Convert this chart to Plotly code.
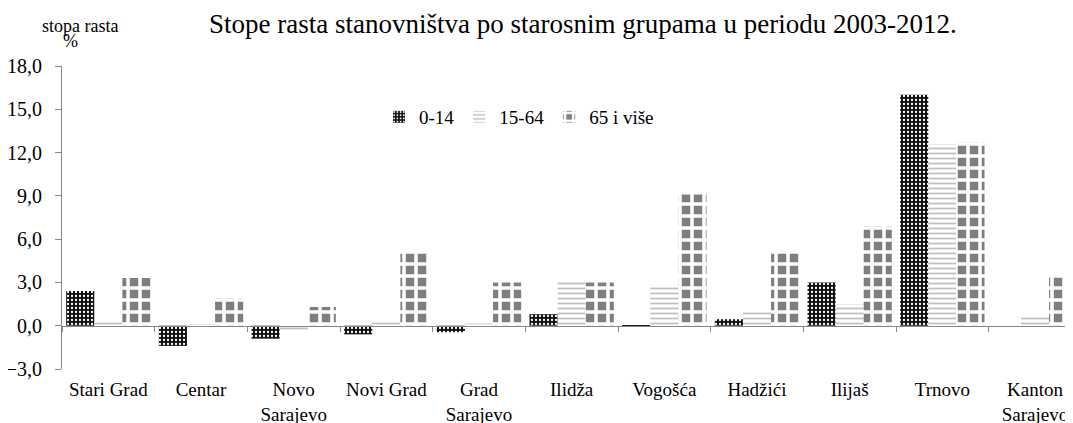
import plotly.graph_objects as go

categories = ["Stari Grad", "Centar", "Novo<br>Sarajevo", "Novi Grad", "Grad<br>Sarajevo",
              "Ilidža", "Vogošća", "Hadžići", "Ilijaš", "Trnovo", "Kanton<br>Sarajevo"]
series_names = ["0-14", "15-64", "65 i više"]
v_0_14 = [2.4, -1.4, -0.9, -0.6, -0.45, 0.8, -0.05, 0.45, 3.0, 16.0, 0.0]
v_15_64 = [0.3, 0.05, -0.3, 0.3, 0.15, 3.1, 2.7, 1.05, 1.5, 12.6, 0.75]
v_65 = [3.3, 1.9, 1.3, 5.1, 3.0, 3.0, 9.1, 5.2, 6.9, 12.7, 3.5]
y_ticks = [-3, 0, 3, 6, 9, 12, 15, 18]

FONT = "Liberation Serif"
AXIS_GREY = "#878787"

# page body has an 8px margin; the figure is sized so that its plot area
# lands at screen x 62..1073, y 66..369
W, H = 1065, 415
PLOT_LEFT, PLOT_TOP, PLOT_W, PLOT_H = 62, 66, 1011, 303


def px_x(sx):
    return (sx - PLOT_LEFT) / PLOT_W


def px_y(sy):
    return (PLOT_TOP + PLOT_H - sy) / PLOT_H


fig = go.Figure()
fig.add_trace(go.Bar(
    x=categories, y=v_0_14, name=series_names[0],
    marker=dict(color="#111111", line=dict(width=0),
                pattern=dict(shape=".", fgcolor="#ffffff", bgcolor="#111111",
                             size=4, solidity=0.25, fillmode="replace")),
))
fig.add_trace(go.Bar(
    x=categories, y=v_15_64, name=series_names[1],
    marker=dict(color="#ffffff", line=dict(width=0),
                pattern=dict(shape="-", fgcolor="#c0c0c0", bgcolor="#ffffff",
                             size=5, solidity=0.35, fillmode="replace")),
))
fig.add_trace(go.Bar(
    x=categories, y=v_65, name=series_names[2],
    marker=dict(color="#808080", line=dict(width=0),
                pattern=dict(shape="+", fgcolor="#ffffff", bgcolor="#7f7f7f",
                             size=12, solidity=0.5, fillmode="replace")),
))
# invisible trace so that the category axis line is drawn at y = 0
fig.add_trace(go.Scatter(x=categories, y=[0] * len(categories), xaxis="x2",
                         mode="markers", marker=dict(opacity=0), showlegend=False,
                         hoverinfo="skip"))

zero_pos = 3 / 21

fig.update_layout(
    width=W, height=H,
    margin=dict(l=PLOT_LEFT - 8, r=0, t=PLOT_TOP - 8, b=H - (PLOT_TOP - 8) - PLOT_H),
    paper_bgcolor="white", plot_bgcolor="white",
    font=dict(family=FONT, size=19, color="#000000"),
    separators=",.",
    barmode="group", bargap=0.09, bargroupgap=0,
    showlegend=True,
    legend=dict(orientation="h", x=px_x(379), y=px_y(117), xanchor="left",
                yanchor="middle", font=dict(family=FONT, size=19),
                bgcolor="rgba(0,0,0,0)", tracegroupgap=0),
    xaxis=dict(type="category", range=[-0.5, 10.41], showline=False, ticks="",
               showgrid=False, zeroline=False, tickfont=dict(family=FONT, size=19),
               ticklabelstandoff=7, automargin=False),
    xaxis2=dict(type="category", matches="x", overlaying="x", anchor="free",
                position=zero_pos, side="bottom", showline=True, linecolor=AXIS_GREY,
                linewidth=1, ticks="outside", ticklen=5, tickcolor=AXIS_GREY,
                tickson="boundaries", showticklabels=False, showgrid=False,
                automargin=False),
    yaxis=dict(range=[-3, 18], tickvals=y_ticks, tickformat=".1f", showgrid=False,
               zeroline=False, showline=True, linecolor=AXIS_GREY, linewidth=1,
               ticks="outside", ticklen=6, tickcolor=AXIS_GREY,
               tickfont=dict(family=FONT, size=20), ticklabelstandoff=9,
               automargin=False),
    annotations=[
        dict(text="Stope rasta stanovništva po starosnim grupama u periodu 2003-2012.",
             xref="paper", yref="paper", x=px_x(583), y=px_y(23.5),
             xanchor="center", yanchor="middle", showarrow=False,
             font=dict(family=FONT, size=27)),
        dict(text="stopa rasta", xref="paper", yref="paper", x=px_x(80),
             y=px_y(26), xanchor="center", yanchor="middle", showarrow=False,
             font=dict(family=FONT, size=18)),
        dict(text="%", xref="paper", yref="paper", x=px_x(70.5),
             y=px_y(41), xanchor="center", yanchor="middle", showarrow=False,
             font=dict(family=FONT, size=18)),
    ],
)

fig.write_html("out.html")
